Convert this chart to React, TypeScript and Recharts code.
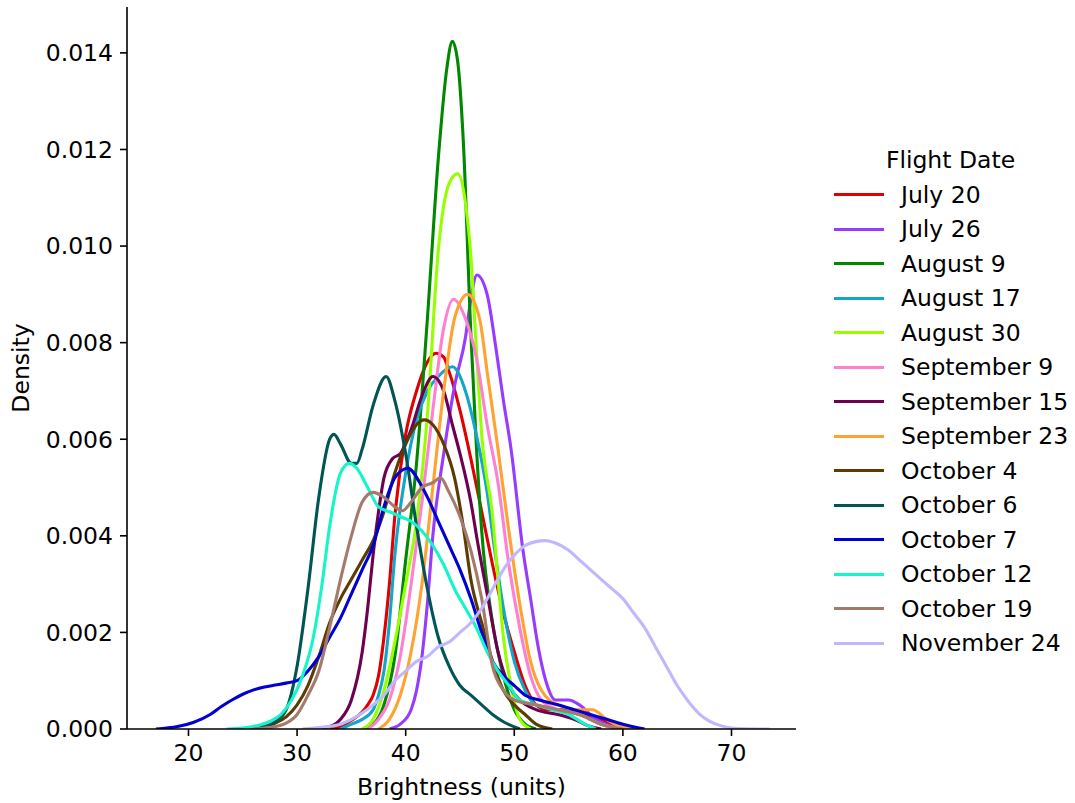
import { Line, LineChart, XAxis, YAxis } from 'recharts';

const FONT = '"DejaVu Sans", Verdana, sans-serif';
const FS = 23.5;

type Pt = [number, number];

// brightness (x) vs density (y)
const july20: Pt[] = [
  [33, 0], [34, 0.00005], [35, 0.00018], [36, 0.00035], [36.5, 0.0005], [37, 0.0007], [37.5, 0.0011],
  [38, 0.0019], [38.5, 0.003], [39, 0.0044], [40, 0.0061], [41, 0.007], [42, 0.0076], [42.8, 0.00778],
  [43.5, 0.0077], [44, 0.0074], [45, 0.0066], [46, 0.0056], [47, 0.0045], [48, 0.0034], [49, 0.0024],
  [50, 0.0016], [51, 0.0009], [52, 0.0005], [53, 0.0004], [55, 0.0004], [56.5, 0.0003], [58, 0.0002],
  [59, 0.0001], [60.5, 0],
];
const july26: Pt[] = [
  [38.5, 0], [39.5, 0.0001], [40.5, 0.0004], [41, 0.0008], [41.5, 0.0015], [42, 0.0026], [42.5, 0.004],
  [43.5, 0.0057], [44.5, 0.0071], [45.5, 0.0081], [46, 0.0089], [46.55, 0.0094], [47.5, 0.009], [48.3, 0.0079],
  [49, 0.0068], [49.7, 0.0058], [50.8, 0.0037], [51.5, 0.0027], [52.2, 0.0017], [52.9, 0.001], [53.8, 0.0006],
  [55, 0.0006], [56, 0.0005], [57.5, 0.0002], [59, 0.00005], [60, 0],
];
const aug9: Pt[] = [
  [36, 0], [37, 0.0001], [38, 0.0005], [39, 0.0015], [40, 0.0035], [41, 0.0055], [42, 0.0085], [43, 0.0118],
  [43.8, 0.0137], [44.3, 0.01424], [44.8, 0.0138], [45.3, 0.0122], [46, 0.0082], [46.5, 0.0059], [47, 0.0041],
  [48, 0.0022], [49, 0.0011], [50, 0.0004], [51, 0.0001], [52, 0],
];
const aug17: Pt[] = [
  [34, 0], [35, 0.0001], [36, 0.0002], [37, 0.0004], [37.5, 0.0007], [38, 0.0012], [38.5, 0.0022], [39, 0.0036],
  [40, 0.0053], [41, 0.0064], [42, 0.007], [43, 0.0073], [44.3, 0.0075], [45.5, 0.007], [46.5, 0.0061],
  [47.5, 0.0049], [48.2, 0.0037], [49, 0.0025], [50, 0.0014], [51, 0.0008], [52, 0.0005], [54, 0.0004],
  [56, 0.0003], [58, 0.0001], [59.5, 0],
];
const aug30: Pt[] = [
  [36, 0], [37, 0.0002], [38, 0.0008], [39, 0.0018], [40, 0.003], [41, 0.0043], [42, 0.0065], [43, 0.0099],
  [44, 0.0113], [44.8, 0.0115], [45.5, 0.0109], [46, 0.0098], [46.5, 0.0079], [47, 0.0061], [48, 0.0044],
  [48.5, 0.0031], [49, 0.0019], [49.7, 0.0009], [50.5, 0.0002], [51.5, 0],
];
const sep9: Pt[] = [
  [36.5, 0], [37.5, 0.0002], [38.5, 0.0006], [39.5, 0.0015], [40.5, 0.003], [41.5, 0.0047], [42.5, 0.0066],
  [43.5, 0.0083], [44.4, 0.0089], [45.5, 0.0085], [46.5, 0.0077], [47.5, 0.0063], [48.5, 0.0051], [49.5, 0.0034],
  [50.5, 0.0021], [51.5, 0.0011], [52.5, 0.0006], [54, 0.0004], [56, 0.0003], [58, 0.0001], [60, 0],
];
const sep15: Pt[] = [
  [31.5, 0], [33, 0.00005], [34, 0.0002], [35, 0.0006], [36, 0.0016], [36.5, 0.0025], [37, 0.0036],
  [37.5, 0.0045], [38, 0.0052], [38.8, 0.0056], [39.5, 0.0057], [40.5, 0.0062], [41.5, 0.0069], [42.5, 0.0073],
  [43.5, 0.007], [44.3, 0.0063], [45, 0.0057], [46, 0.0047], [46.6, 0.0039], [47.5, 0.0028], [48.5, 0.0016],
  [49.5, 0.0009], [50.5, 0.0006], [52, 0.0004], [54, 0.0003], [55.5, 0.0002], [57, 0.00005], [58, 0],
];
const sep23: Pt[] = [
  [37.5, 0], [38.5, 0.0002], [39.5, 0.0007], [40.5, 0.0016], [41.5, 0.003], [42.5, 0.005], [43.5, 0.007],
  [44.5, 0.0085], [45.7, 0.009], [46.8, 0.0085], [47.5, 0.0074], [48.5, 0.0058], [49.5, 0.0041], [50.5, 0.0026],
  [51.5, 0.0014], [52.5, 0.0008], [54, 0.0005], [56, 0.0004], [57.2, 0.0004], [58.5, 0.0002], [60, 0.00003], [61, 0],
];
const oct4: Pt[] = [
  [25.5, 0], [27, 0.00005], [28, 0.00012], [29, 0.00025], [30, 0.0005], [31, 0.0009], [32, 0.0015], [33, 0.0022],
  [34, 0.0027], [35, 0.0031], [36, 0.0035], [37, 0.0039], [38, 0.0045], [39, 0.0053], [40, 0.0059], [41, 0.0063],
  [41.7, 0.0064], [42.5, 0.0063], [43.5, 0.0059], [44.5, 0.0052], [45.3, 0.0042], [46, 0.0031], [47, 0.0022],
  [48, 0.0014], [49, 0.0008], [50, 0.0005], [51, 0.0003], [52, 0.0001], [53.5, 0],
];
const oct6: Pt[] = [
  [25.5, 0], [27, 0.00005], [28, 0.00015], [29, 0.0004], [30, 0.0013], [31, 0.0029], [32, 0.0048], [33, 0.006],
  [33.4, 0.0061], [34, 0.0059], [35, 0.0055], [35.5, 0.0055], [36, 0.0058], [37, 0.0067], [38.2, 0.0073],
  [39, 0.0068], [40, 0.0057], [41, 0.0042], [42, 0.0029], [43, 0.0019], [44, 0.0013], [45, 0.0009], [46, 0.0007],
  [47, 0.0005], [48, 0.0003], [49, 0.00015], [50.5, 0],
];
const oct7: Pt[] = [
  [17, 0], [19, 0.00005], [20.5, 0.00014], [22, 0.0003], [23, 0.00046], [24, 0.0006], [25, 0.00072],
  [26, 0.00081], [27, 0.00087], [28, 0.00091], [29, 0.00095], [30, 0.001], [31, 0.0012], [32, 0.0015],
  [33, 0.0019], [34, 0.0023], [35, 0.0028], [36, 0.0033], [37, 0.0038], [38, 0.0046], [39, 0.0052],
  [40.2, 0.0054], [41.3, 0.0051], [42, 0.0048], [43, 0.0043], [44, 0.0038], [45, 0.0033], [46, 0.0027],
  [47, 0.002], [48, 0.0014], [49, 0.0011], [50, 0.0009], [51, 0.0007], [52.3, 0.0006], [54, 0.0005],
  [55.5, 0.0004], [57, 0.0003], [58.5, 0.0002], [60, 0.0001], [62, 0],
];
const oct12: Pt[] = [
  [23.5, 0], [25, 0.00002], [26.5, 0.00008], [27.5, 0.00016], [28.5, 0.0003], [29.5, 0.0006], [30.5, 0.0011],
  [31.5, 0.0019], [32.3, 0.003], [33, 0.0042], [34, 0.0053], [34.8, 0.0055], [35.5, 0.0054], [36.5, 0.005],
  [37.5, 0.0046], [38.5, 0.0045], [39.5, 0.0044], [40.5, 0.0043], [41.5, 0.0041], [42.5, 0.0038], [43.5, 0.0034],
  [44.5, 0.0029], [45.5, 0.0025], [46.5, 0.0021], [47.5, 0.0016], [48.5, 0.0012], [49.5, 0.0009], [50.5, 0.0006],
  [52, 0.0005], [53.5, 0.0004], [55, 0.0003], [56.5, 0.0001], [57.5, 0],
];
const oct19: Pt[] = [
  [26, 0], [28, 0.00005], [29, 0.00012], [30, 0.0003], [31, 0.0007], [32, 0.0012], [33, 0.0021], [34, 0.0031],
  [35, 0.004], [36, 0.0047], [37, 0.0049], [38, 0.0048], [39, 0.0046], [39.7, 0.00452], [40.5, 0.0047],
  [41.5, 0.005], [42.5, 0.0051], [43.2, 0.0052], [44, 0.0049], [45, 0.0044], [46, 0.0037], [47, 0.0027],
  [48, 0.0013], [49, 0.0008], [50, 0.0006], [52, 0.0005], [54, 0.0004], [56, 0.0003], [58, 0.0001], [60, 0],
];
const nov24: Pt[] = [
  [30.5, 0], [32, 0.00003], [34, 0.0001], [35, 0.0002], [36, 0.00033], [37, 0.0005], [38, 0.0007], [39, 0.001],
  [40, 0.0012], [41, 0.0014], [42, 0.0015], [43, 0.0017], [44, 0.0018], [45, 0.002], [46, 0.0022], [47, 0.0025],
  [48, 0.0029], [49, 0.0033], [50, 0.0036], [51, 0.0038], [52, 0.00388], [52.8, 0.0039], [54, 0.00383],
  [55, 0.0037], [56, 0.0035], [57, 0.0033], [58, 0.0031], [59, 0.0029], [60, 0.0027], [61, 0.0024], [62, 0.0021],
  [63, 0.0017], [64, 0.0013], [65, 0.0009], [66, 0.00058], [67, 0.00032], [68, 0.00016], [69, 0.00007],
  [70, 0.00002], [71.5, 0.000005], [73.5, 0],
];

const SERIES = [
  { name: 'July 20', color: '#e00000', points: july20 },
  { name: 'July 26', color: '#963cff', points: july26 },
  { name: 'August 9', color: '#008800', points: aug9 },
  { name: 'August 17', color: '#12a6c8', points: aug17 },
  { name: 'August 30', color: '#96ff00', points: aug30 },
  { name: 'September 9', color: '#ff80d2', points: sep9 },
  { name: 'September 15', color: '#6e0050', points: sep15 },
  { name: 'September 23', color: '#ffa232', points: sep23 },
  { name: 'October 4', color: '#5c3c00', points: oct4 },
  { name: 'October 6', color: '#005555', points: oct6 },
  { name: 'October 7', color: '#0000d2', points: oct7 },
  { name: 'October 12', color: '#14f5c8', points: oct12 },
  { name: 'October 19', color: '#a67a6a', points: oct19 },
  { name: 'November 24', color: '#c0b8ff', points: nov24 },
];

const xTicks = [20, 30, 40, 50, 60, 70];
const yTicks = [0, 0.002, 0.004, 0.006, 0.008, 0.01, 0.012, 0.014];

const textStyle = { fontSize: FS, fill: '#000', fontFamily: FONT };

function FlightLegend() {
  return (
    <div
      style={{
        position: 'absolute',
        left: 834,
        top: 143,
        fontFamily: FONT,
        fontSize: FS,
        color: '#000',
        whiteSpace: 'nowrap',
      }}
    >
      <div style={{ width: 233, height: 34.5, lineHeight: '34.5px', textAlign: 'center' }}>Flight Date</div>
      {SERIES.map((s) => (
        <div key={s.name} style={{ display: 'flex', alignItems: 'center', height: 34.5 }}>
          <span style={{ display: 'inline-block', width: 50, height: 3, background: s.color, marginRight: 17 }} />
          <span>{s.name}</span>
        </div>
      ))}
    </div>
  );
}

export default function App() {
  return (
    <div style={{ position: 'absolute', left: 0, top: 0, width: 1075, height: 803, background: '#fff' }}>
      <LineChart width={1075} height={803} margin={{ top: 7, right: 279, bottom: 0, left: 0 }}>
        <XAxis
          type="number"
          dataKey="x"
          domain={[14.34, 75.94]}
          ticks={xTicks}
          allowDataOverflow
          height={74}
          tickSize={7}
          tickMargin={8}
          tick={textStyle}
          axisLine={{ stroke: '#000', strokeWidth: 1.6 }}
          tickLine={{ stroke: '#000', strokeWidth: 1.6 }}
          label={{ value: 'Brightness (units)', position: 'insideBottom', offset: 8, style: textStyle }}
        />
        <YAxis
          type="number"
          domain={[0, 0.01495]}
          ticks={yTicks}
          allowDataOverflow
          width={127}
          tickSize={7}
          tickMargin={7}
          tick={textStyle}
          tickFormatter={(v: number) => v.toFixed(3)}
          axisLine={{ stroke: '#000', strokeWidth: 1.6 }}
          tickLine={{ stroke: '#000', strokeWidth: 1.6 }}
          label={{
            value: 'Density',
            angle: -90,
            position: 'insideLeft',
            offset: 21,
            style: { ...textStyle, textAnchor: 'middle' },
          }}
        />
        {SERIES.map((s) => (
          <Line
            key={s.name}
            name={s.name}
            data={s.points.map(([x, y]) => ({ x, y }))}
            dataKey="y"
            type="monotone"
            stroke={s.color}
            strokeWidth={3.1}
            dot={false}
            activeDot={false}
            isAnimationActive={false}
          />
        ))}
      </LineChart>
      <FlightLegend />
    </div>
  );
}
